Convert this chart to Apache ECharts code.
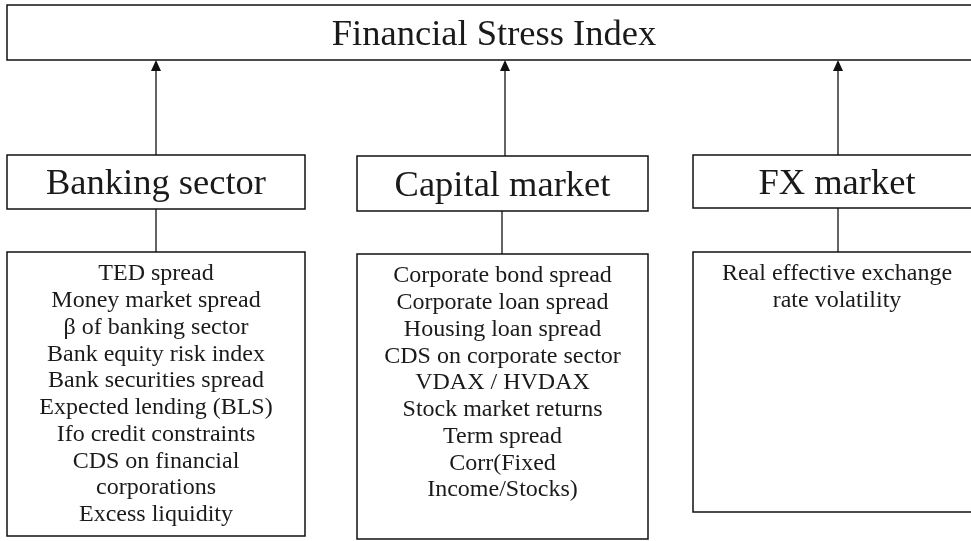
<!DOCTYPE html>
<html>
<head>
<meta charset="utf-8">
<title>Financial Stress Index</title>
<script src="https://cdn.jsdelivr.net/npm/echarts@6/dist/echarts.min.js"></script>
<style>
  html, body { margin: 0; padding: 0; background: #fff; }
  #main { width: 971px; height: 541px; }
</style>
</head>
<body>
<div id="main"></div>
<script>
// data
var title = 'Financial Stress Index';
var sectors = ['Banking sector', 'Capital market', 'FX market'];
var bankingItems = [
    'TED spread',
    'Money market spread',
    'β of banking sector',
    'Bank equity risk index',
    'Bank securities spread',
    'Expected lending (BLS)',
    'Ifo credit constraints',
    'CDS on financial',
    'corporations',
    'Excess liquidity'
];
var capitalItems = [
    'Corporate bond spread',
    'Corporate loan spread',
    'Housing loan spread',
    'CDS on corporate sector',
    'VDAX / HVDAX',
    'Stock market returns',
    'Term spread',
    'Corr(Fixed',
    'Income/Stocks)'
];
var fxItems = [
    'Real effective exchange',
    'rate volatility'
];
var itemLists = [bankingItems, capitalItems, fxItems];

// layout (pixel units on hidden axes)
var topBox = {x0: 7, x1: 981, y0: 5, y1: 60};
var cols = [
    {x0: 7,   x1: 305, arrowX: 156, lineX: 156, head: [155, 209], list: [252, 536]},
    {x0: 357, x1: 648, arrowX: 505, lineX: 502, head: [156, 211], list: [254, 539]},
    {x0: 693, x1: 981, arrowX: 838, lineX: 838, head: [155, 208], list: [252, 512]}
];
var fontFamily = '"Liberation Serif", "DejaVu Serif", serif';
var bigFont = 36.5;
var itemFont = 24;
var itemLine = 26.75;
var ink = '#1a1a1a';

var boxes = [];
boxes.push({x0: topBox.x0, x1: topBox.x1, y0: topBox.y0, y1: topBox.y1, text: title, kind: 'big'});
sectors.forEach(function(name, i) {
    var c = cols[i];
    boxes.push({x0: c.x0, x1: c.x1, y0: c.head[0], y1: c.head[1], text: name, kind: 'big'});
    boxes.push({x0: c.x0, x1: c.x1, y0: c.list[0], y1: c.list[1], text: itemLists[i].join('\n'), kind: 'list'});
});

function renderBox(params, api) {
    var b = boxes[api.value(0)];
    var p0 = api.coord([b.x0, b.y0]);
    var p1 = api.coord([b.x1, b.y1]);
    var cx = (p0[0] + p1[0]) / 2;
    var children = [{
        type: 'rect',
        shape: {x: p0[0], y: p0[1], width: p1[0] - p0[0], height: p1[1] - p0[1]},
        style: {fill: '#fff', stroke: '#111', lineWidth: 1.5}
    }];
    if (b.kind === 'big') {
        children.push({
            type: 'text',
            style: {
                text: b.text, x: cx, y: (p0[1] + p1[1]) / 2 + 2.5,
                align: 'center', verticalAlign: 'middle',
                font: bigFont + 'px ' + fontFamily, fill: ink
            }
        });
    } else {
        children.push({
            type: 'text',
            style: {
                text: b.text, x: cx, y: p0[1] + 22 - itemLine / 2,
                align: 'center', verticalAlign: 'top', lineHeight: itemLine,
                font: itemFont + 'px ' + fontFamily, fill: ink
            }
        });
    }
    return {type: 'group', children: children};
}

function renderLink(params, api) {
    var c = cols[api.value(0)];
    // arrow up from sector box to index box
    var a0 = api.coord([c.arrowX, c.head[0]]);
    var a1 = api.coord([c.arrowX, topBox.y1]);
    // plain line from list box to sector box
    var l0 = api.coord([c.lineX, c.list[0]]);
    var l1 = api.coord([c.lineX, c.head[1]]);
    return {
        type: 'group',
        children: [
            {type: 'line', shape: {x1: a0[0], y1: a0[1], x2: a1[0], y2: a1[1] + 8},
             style: {stroke: '#111', lineWidth: 1.3}},
            {type: 'polygon', shape: {points: [[a1[0], a1[1]], [a1[0] - 5, a1[1] + 11], [a1[0] + 5, a1[1] + 11]]},
             style: {fill: '#111'}},
            {type: 'line', shape: {x1: l0[0], y1: l0[1], x2: l1[0], y2: l1[1]},
             style: {stroke: '#111', lineWidth: 1.3}}
        ]
    };
}

var chart = echarts.init(document.getElementById('main'));
chart.setOption({
    animation: false,
    grid: {left: 0, right: 0, top: 0, bottom: 0},
    xAxis: {type: 'value', min: 0, max: 971, show: false},
    yAxis: {type: 'value', min: 0, max: 541, inverse: true, show: false},
    series: [
        {
            type: 'custom',
            clip: false,
            renderItem: renderLink,
            data: sectors.map(function(s, i) { return [i]; })
        },
        {
            type: 'custom',
            clip: false,
            renderItem: renderBox,
            data: boxes.map(function(b, i) { return [i]; })
        }
    ]
});
</script>
</body>
</html>
